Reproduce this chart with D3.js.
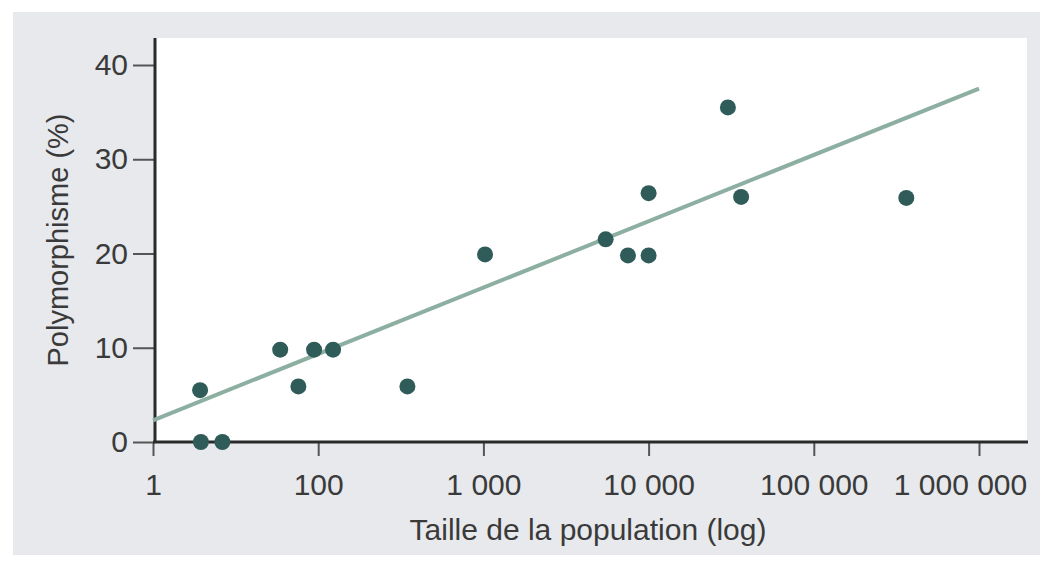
<!DOCTYPE html>
<html><head><meta charset="utf-8">
<script src="https://cdn.jsdelivr.net/npm/d3@7"></script>
<style>body{margin:0;background:#fff}svg{display:block}text{font-family:"Liberation Sans",Arial,sans-serif;fill:#3a3a3a}</style>
</head><body>
<svg id="c" width="1049" height="567"></svg>
<script>
// x values are positions along the log axis (decade index of the labelled ticks)
const xTickLabels = ["1","100","1 000","10 000","100 000","1 000 000"];
const xTickPos = [0,1,2,3,4,5];
const yTicks = [0,10,20,30,40];
const pointX = [0.285,0.29,0.42,0.77,0.88,0.975,1.09,1.54,2.01,2.74,2.875,3.0,3.0,3.48,3.56,4.56];
const pointY = [5.5,0,0,9.8,5.9,9.8,9.8,5.9,19.9,21.5,19.8,19.8,26.4,35.5,26.0,25.9];
const fitX = [0,5];
const fitY = [2.3,37.5];

const svg = d3.select("#c");
const x = d3.scaleLinear().domain([0,5]).range([153,979]);
const y = d3.scaleLinear().domain([0,40]).range([442,65]);

svg.append("rect").attr("x",13).attr("y",12).attr("width",1027).attr("height",543).attr("fill","#e7e9ed");
svg.append("rect").attr("x",155).attr("y",38).attr("width",872).attr("height",404).attr("fill","#fff");

// x axis
const xa = svg.append("g").attr("transform","translate(0,442)")
  .call(d3.axisBottom(x).tickValues(xTickPos).tickFormat((d,i)=>xTickLabels[i]).tickSize(14).tickPadding(18).tickSizeOuter(0));
xa.select(".domain").remove();
xa.selectAll(".tick line").attr("stroke","#555").attr("stroke-width",2);
xa.selectAll(".tick text").style("font-size","30px").attr("fill","#3a3a3a")
  .attr("dx",(d,i)=>i===5?-19:0);

// y axis
const ya = svg.append("g").attr("transform","translate(155,0)")
  .call(d3.axisLeft(y).tickValues(yTicks).tickSize(22).tickPadding(5).tickSizeOuter(0));
ya.select(".domain").remove();
ya.selectAll(".tick line").attr("stroke","#555").attr("stroke-width",2);
ya.selectAll(".tick text").style("font-size","30px").attr("fill","#3a3a3a");

// axis lines
svg.append("line").attr("x1",155).attr("x2",155).attr("y1",38).attr("y2",443).attr("stroke","#2a2a2a").attr("stroke-width",3);
svg.append("line").attr("x1",153).attr("x2",1028).attr("y1",442).attr("y2",442).attr("stroke","#2a2a2a").attr("stroke-width",3);

// regression line
svg.append("line").attr("x1",x(fitX[0])).attr("y1",y(fitY[0])).attr("x2",x(fitX[1])).attr("y2",y(fitY[1]))
  .attr("stroke","#8dafa2").attr("stroke-width",4);

// points
svg.append("g").selectAll("circle").data(pointX.map((v,i)=>[v,pointY[i]])).join("circle")
  .attr("cx",d=>x(d[0])).attr("cy",d=>y(d[1])).attr("r",8).attr("fill","#2f5b59");

svg.append("text").attr("x",588).attr("y",540).attr("text-anchor","middle").style("font-size","30px").text("Taille de la population (log)");
svg.append("text").attr("transform","translate(68,240) rotate(-90)").attr("text-anchor","middle").style("font-size","29px").text("Polymorphisme (%)");
</script>
</body></html>
